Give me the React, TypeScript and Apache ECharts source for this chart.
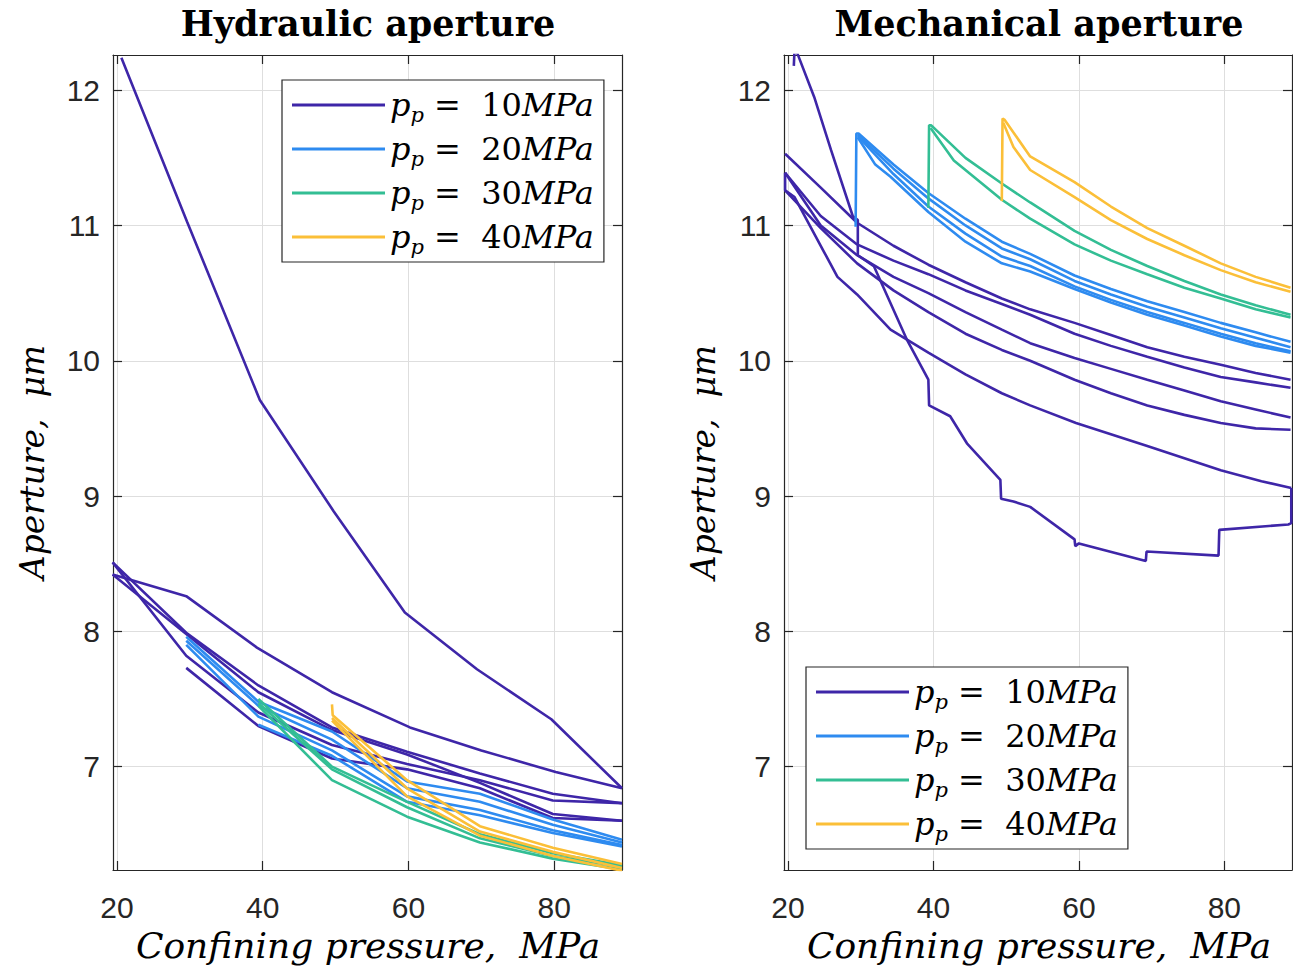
import React, { useEffect, useRef } from "react";
import * as echarts from "echarts";

// ---------- data ----------
const xTicks = [20, 40, 60, 80];
const yTicks = [7, 8, 9, 10, 11, 12];
const xRange = [19.45, 89.3];
const yRange = [6.236, 12.26];
const titles = ["Hydraulic aperture", "Mechanical aperture"];
const legendNames = ["10", "20", "30", "40"];

// Hydraulic aperture
const hyd10a = [[20.6, 12.24], [29.6, 11.03], [39.6, 9.71], [49.7, 8.89], [59.5, 8.14], [69.4, 7.72], [79.6, 7.35], [89.3, 6.84]];
const hyd10b = [[19.4, 8.42], [29.5, 8.26], [39.2, 7.88], [49.5, 7.55], [60.2, 7.29], [70.0, 7.12], [80.2, 6.96], [89.3, 6.84]];
const hyd10c = [[19.4, 8.51], [29.5, 7.99], [39.4, 7.6], [49.5, 7.29], [59.8, 7.11], [69.8, 6.95], [79.8, 6.8], [89.3, 6.73]];
const hyd10d = [[19.4, 8.42], [29.5, 7.98], [39.4, 7.55], [49.5, 7.27], [59.8, 7.09], [69.8, 6.88], [79.8, 6.65], [89.3, 6.6]];
const hyd10e = [[19.4, 8.51], [29.5, 7.82], [39.4, 7.4], [49.5, 7.16], [59.8, 7.02], [69.8, 6.9], [79.8, 6.75], [89.3, 6.73]];
const hyd10f = [[29.5, 7.73], [39.4, 7.3], [49.5, 7.06], [59.8, 6.98], [69.8, 6.84], [79.8, 6.62], [89.3, 6.6]];
const hyd20a = [[29.5, 7.96], [39.4, 7.48], [49.5, 7.26], [59.8, 6.89], [69.8, 6.8], [79.8, 6.61], [89.3, 6.46]];
const hyd20b = [[29.5, 7.93], [39.4, 7.45], [49.5, 7.2], [59.8, 6.84], [69.8, 6.74], [79.8, 6.57], [89.3, 6.44]];
const hyd20c = [[29.5, 7.9], [39.4, 7.37], [49.5, 7.12], [59.8, 6.78], [69.8, 6.68], [79.8, 6.53], [89.3, 6.42]];
const hyd20d = [[39.4, 7.31], [49.5, 7.08], [59.8, 6.74], [69.8, 6.64], [79.8, 6.51], [89.3, 6.41]];
const hyd30a = [[39.4, 7.5], [49.5, 7.0], [59.8, 6.74], [69.8, 6.5], [79.8, 6.36], [89.3, 6.27]];
const hyd30b = [[39.4, 7.47], [49.5, 6.98], [59.8, 6.7], [69.8, 6.47], [79.8, 6.34], [89.3, 6.26]];
const hyd30c = [[39.4, 7.45], [49.5, 6.9], [59.8, 6.63], [69.8, 6.44], [79.8, 6.32], [89.3, 6.24]];
const hyd40a = [[49.5, 7.46], [49.6, 7.38], [59.8, 6.9], [69.8, 6.56], [79.8, 6.4], [89.3, 6.28]];
const hyd40b = [[49.5, 7.36], [59.8, 6.84], [69.8, 6.52], [79.8, 6.37], [89.3, 6.25]];
const hyd40c = [[49.5, 7.34], [59.8, 6.78], [69.8, 6.49], [79.8, 6.34], [89.3, 6.23]];

// Mechanical aperture
const mech10load = [[20.8, 12.18], [20.9, 12.3], [21.3, 12.27], [23.6, 11.95], [25.9, 11.56], [28.9, 11.07], [29.6, 11.04], [29.6, 10.78], [31.8, 10.7], [36.4, 10.15], [39.3, 9.86], [39.4, 9.67], [42.3, 9.59], [44.6, 9.39], [49.2, 9.12], [49.3, 8.98], [51.0, 8.96], [53.3, 8.92], [59.4, 8.68], [59.5, 8.63], [60.0, 8.65], [69.2, 8.52], [69.3, 8.59], [79.2, 8.56], [79.3, 8.75], [88.8, 8.79], [89.2, 8.8], [89.2, 9.06]];
const mech10a = [[19.6, 11.53], [24.5, 11.28], [29.5, 11.02], [34.5, 10.85], [39.3, 10.71], [44.4, 10.58], [49.4, 10.46], [53.3, 10.38], [59.4, 10.28], [64.4, 10.19], [69.4, 10.1], [74.5, 10.03], [79.5, 9.97], [84.3, 9.91], [89.1, 9.86]];
const mech10b = [[19.6, 11.39], [24.5, 11.07], [29.5, 10.86], [34.5, 10.74], [39.3, 10.64], [44.4, 10.52], [49.4, 10.42], [53.3, 10.34], [59.4, 10.2], [64.4, 10.11], [69.4, 10.03], [74.5, 9.95], [79.5, 9.88], [84.3, 9.84], [89.1, 9.8]];
const mech10c = [[19.6, 11.39], [24.5, 11.0], [29.5, 10.78], [34.5, 10.62], [39.3, 10.5], [44.4, 10.36], [49.4, 10.23], [53.3, 10.13], [59.4, 10.02], [64.4, 9.94], [69.4, 9.86], [74.5, 9.78], [79.5, 9.7], [84.3, 9.64], [89.1, 9.58]];
const mech10d = [[19.6, 11.26], [24.5, 10.98], [29.5, 10.72], [34.5, 10.52], [39.3, 10.36], [44.4, 10.2], [49.4, 10.08], [53.3, 10.0], [59.4, 9.86], [64.4, 9.76], [69.4, 9.67], [74.5, 9.6], [79.5, 9.54], [84.3, 9.5], [89.1, 9.49]];
const mech10e = [[89.2, 9.06], [85.1, 9.11], [79.5, 9.19], [69.4, 9.37], [59.6, 9.54], [53.3, 9.67], [49.4, 9.76], [44.4, 9.9], [39.3, 10.06], [34.1, 10.23], [29.5, 10.49], [26.8, 10.62], [25.0, 10.8], [22.8, 11.02], [20.9, 11.21], [19.6, 11.26], [19.6, 11.39]];
const mech20a = [[29.3, 10.99], [29.4, 11.68], [29.7, 11.68], [34.5, 11.45], [39.3, 11.24], [44.4, 11.05], [49.4, 10.88], [53.3, 10.79], [59.4, 10.63], [64.4, 10.53], [69.4, 10.44], [74.5, 10.36], [79.5, 10.28], [84.3, 10.21], [89.1, 10.14]];
const mech20b = [[29.6, 11.67], [34.5, 11.42], [39.3, 11.2], [44.4, 11.0], [49.4, 10.83], [53.3, 10.75], [59.4, 10.59], [64.4, 10.49], [69.4, 10.4], [74.5, 10.32], [79.5, 10.24], [84.3, 10.17], [89.1, 10.1]];
const mech20c = [[29.6, 11.66], [34.5, 11.38], [39.3, 11.14], [44.4, 10.94], [49.4, 10.77], [53.3, 10.7], [59.4, 10.55], [64.4, 10.45], [69.4, 10.36], [74.5, 10.28], [79.5, 10.2], [84.3, 10.13], [89.1, 10.07]];
const mech20d = [[29.6, 11.65], [32.0, 11.45], [34.1, 11.36], [39.3, 11.1], [44.4, 10.88], [49.4, 10.72], [53.3, 10.66], [59.4, 10.53], [64.4, 10.43], [69.4, 10.34], [74.5, 10.26], [79.5, 10.18], [84.3, 10.11], [89.1, 10.06]];
const mech30a = [[39.3, 11.13], [39.4, 11.74], [39.7, 11.74], [44.4, 11.5], [49.4, 11.31], [53.3, 11.17], [59.4, 10.96], [64.4, 10.82], [69.4, 10.7], [74.5, 10.59], [79.5, 10.49], [84.3, 10.41], [89.1, 10.34]];
const mech30b = [[39.6, 11.72], [42.8, 11.48], [49.4, 11.19], [53.3, 11.05], [59.4, 10.86], [64.4, 10.74], [69.4, 10.64], [74.5, 10.54], [79.5, 10.46], [84.3, 10.38], [89.1, 10.32]];
const mech40a = [[49.4, 11.18], [49.5, 11.79], [49.8, 11.78], [53.3, 11.51], [59.4, 11.32], [64.4, 11.14], [69.4, 10.98], [74.5, 10.85], [79.5, 10.72], [84.3, 10.62], [89.1, 10.54]];
const mech40b = [[49.6, 11.76], [51.0, 11.58], [53.3, 11.41], [59.4, 11.21], [64.4, 11.04], [69.4, 10.9], [74.5, 10.78], [79.5, 10.67], [84.3, 10.58], [89.1, 10.51]];

const hydSets: [string, number[][][]][] = [
  ["10", [hyd10a, hyd10b, hyd10c, hyd10d, hyd10e, hyd10f]],
  ["20", [hyd20a, hyd20b, hyd20c, hyd20d]],
  ["30", [hyd30a, hyd30b, hyd30c]],
  ["40", [hyd40a, hyd40b, hyd40c]],
];
const mechSets: [string, number[][][]][] = [
  ["10", [mech10load, mech10a, mech10b, mech10c, mech10d, mech10e]],
  ["20", [mech20a, mech20b, mech20c, mech20d]],
  ["30", [mech30a, mech30b]],
  ["40", [mech40a, mech40b]],
];

// ---------- styles ----------
const COLORS: Record<string, string> = {
  "10": "#3E26A8",
  "20": "#2E8BF0",
  "30": "#33BE94",
  "40": "#FBBF38",
};
const AX = "#262626";
const SERIF = "'DejaVu Serif', serif";
const SANS = "'Liberation Sans', Arial, sans-serif";
const GRIDS = [
  { left: 113, top: 55, width: 509, height: 815 },
  { left: 784, top: 55, width: 508, height: 815 },
];

function xAxes(gi: number) {
  const base = {
    type: "value",
    gridIndex: gi,
    min: xRange[0],
    max: xRange[1],
    axisLine: { show: true, onZero: false, lineStyle: { color: AX, width: 1.2 } },
    axisTick: { show: true, inside: true, length: 9, customValues: xTicks, lineStyle: { color: AX, width: 1.2 } },
  };
  return [
    {
      ...base,
      position: "bottom",
      axisLabel: { show: true, customValues: xTicks, margin: 22, color: AX, fontFamily: SANS, fontSize: 30 },
      splitLine: { show: true, lineStyle: { color: "#dedede", width: 1 } },
    },
    {
      ...base,
      position: "top",
      axisLabel: { show: false },
      splitLine: { show: false },
    },
  ];
}
function yAxes(gi: number) {
  const base = {
    type: "value",
    gridIndex: gi,
    min: yRange[0],
    max: yRange[1],
    axisLine: { show: true, onZero: false, lineStyle: { color: AX, width: 1.2 } },
    axisTick: { show: true, inside: true, length: 9, customValues: yTicks, lineStyle: { color: AX, width: 1.2 } },
  };
  return [
    {
      ...base,
      position: "left",
      axisLabel: { show: true, customValues: yTicks, margin: 13, color: AX, fontFamily: SANS, fontSize: 30 },
      splitLine: { show: true, lineStyle: { color: "#dedede", width: 1 } },
    },
    {
      ...base,
      position: "right",
      axisLabel: { show: false },
      splitLine: { show: false },
    },
  ];
}

function buildSeries(sets: [string, number[][][]][], gi: number) {
  const out: any[] = [];
  sets.forEach(([name, lines]) => {
    lines.forEach((d) => {
      out.push({
        type: "line",
        name,
        data: d,
        xAxisIndex: gi * 2,
        yAxisIndex: gi * 2,
        showSymbol: false,
        symbol: "none",
        clip: true,
        silent: true,
        lineStyle: { color: COLORS[name], width: 2.6 },
        itemStyle: { color: COLORS[name] },
      });
    });
  });
  return out;
}

function legendAt(left: number, top: number) {
  return {
    orient: "vertical",
    left,
    top,
    data: legendNames,
    icon: "rect",
    itemWidth: 93,
    itemHeight: 3,
    itemGap: 8,
    padding: [9, 10, 5, 10],
    backgroundColor: "#ffffff",
    borderColor: AX,
    borderWidth: 1.2,
    borderRadius: 0,
    selectedMode: false,
    formatter: (n: string) => `{i|p}{s|p}{n| =  ${n}}{i|MPa}`,
    textStyle: {
      color: "#000",
      rich: {
        i: { fontFamily: SERIF, fontStyle: "italic", fontSize: 32, lineHeight: 40, color: "#000" },
        s: { fontFamily: SERIF, fontStyle: "italic", fontSize: 21, lineHeight: 40, verticalAlign: "bottom", color: "#000" },
        n: { fontFamily: SERIF, fontSize: 32, lineHeight: 40, color: "#000" },
      },
    },
  };
}

function textEl(text: string, x: number, y: number, font: string, rotation = 0) {
  return {
    type: "text",
    x,
    y,
    rotation,
    silent: true,
    style: { text, font, fill: "#000", textAlign: "center", textVerticalAlign: "middle" },
  };
}

export default function App() {
  const ref = useRef<HTMLDivElement>(null);
  useEffect(() => {
    if (!ref.current) return;
    const chart = echarts.init(ref.current, undefined, { renderer: "svg" });
    const titleFont = `bold 35px ${SERIF}`;
    const yLabFont = `italic 33px ${SERIF}`;
    const xLabFont = `italic 36px ${SERIF}`;
    chart.setOption({
      animation: false,
      backgroundColor: "#ffffff",
      grid: GRIDS,
      xAxis: [...xAxes(0), ...xAxes(1)],
      yAxis: [...yAxes(0), ...yAxes(1)],
      legend: [legendAt(282, 80), legendAt(806, 667)],
      series: [...buildSeries(hydSets, 0), ...buildSeries(mechSets, 1)],
      graphic: [
        textEl(titles[0], 368, 23, titleFont),
        textEl(titles[1], 1039, 23, titleFont),
        textEl("Aperture,  \u03BCm", 32, 462, yLabFont, Math.PI / 2),
        textEl("Aperture,  \u03BCm", 703, 462, yLabFont, Math.PI / 2),
        textEl("Confining pressure,  MPa", 368, 945, xLabFont),
        textEl("Confining pressure,  MPa", 1039, 945, xLabFont),
      ],
    });
    return () => chart.dispose();
  }, []);
  return (
    <div
      ref={ref}
      style={{ position: "fixed", left: 0, top: 0, width: 1293, height: 969, background: "#fff" }}
    />
  );
}
